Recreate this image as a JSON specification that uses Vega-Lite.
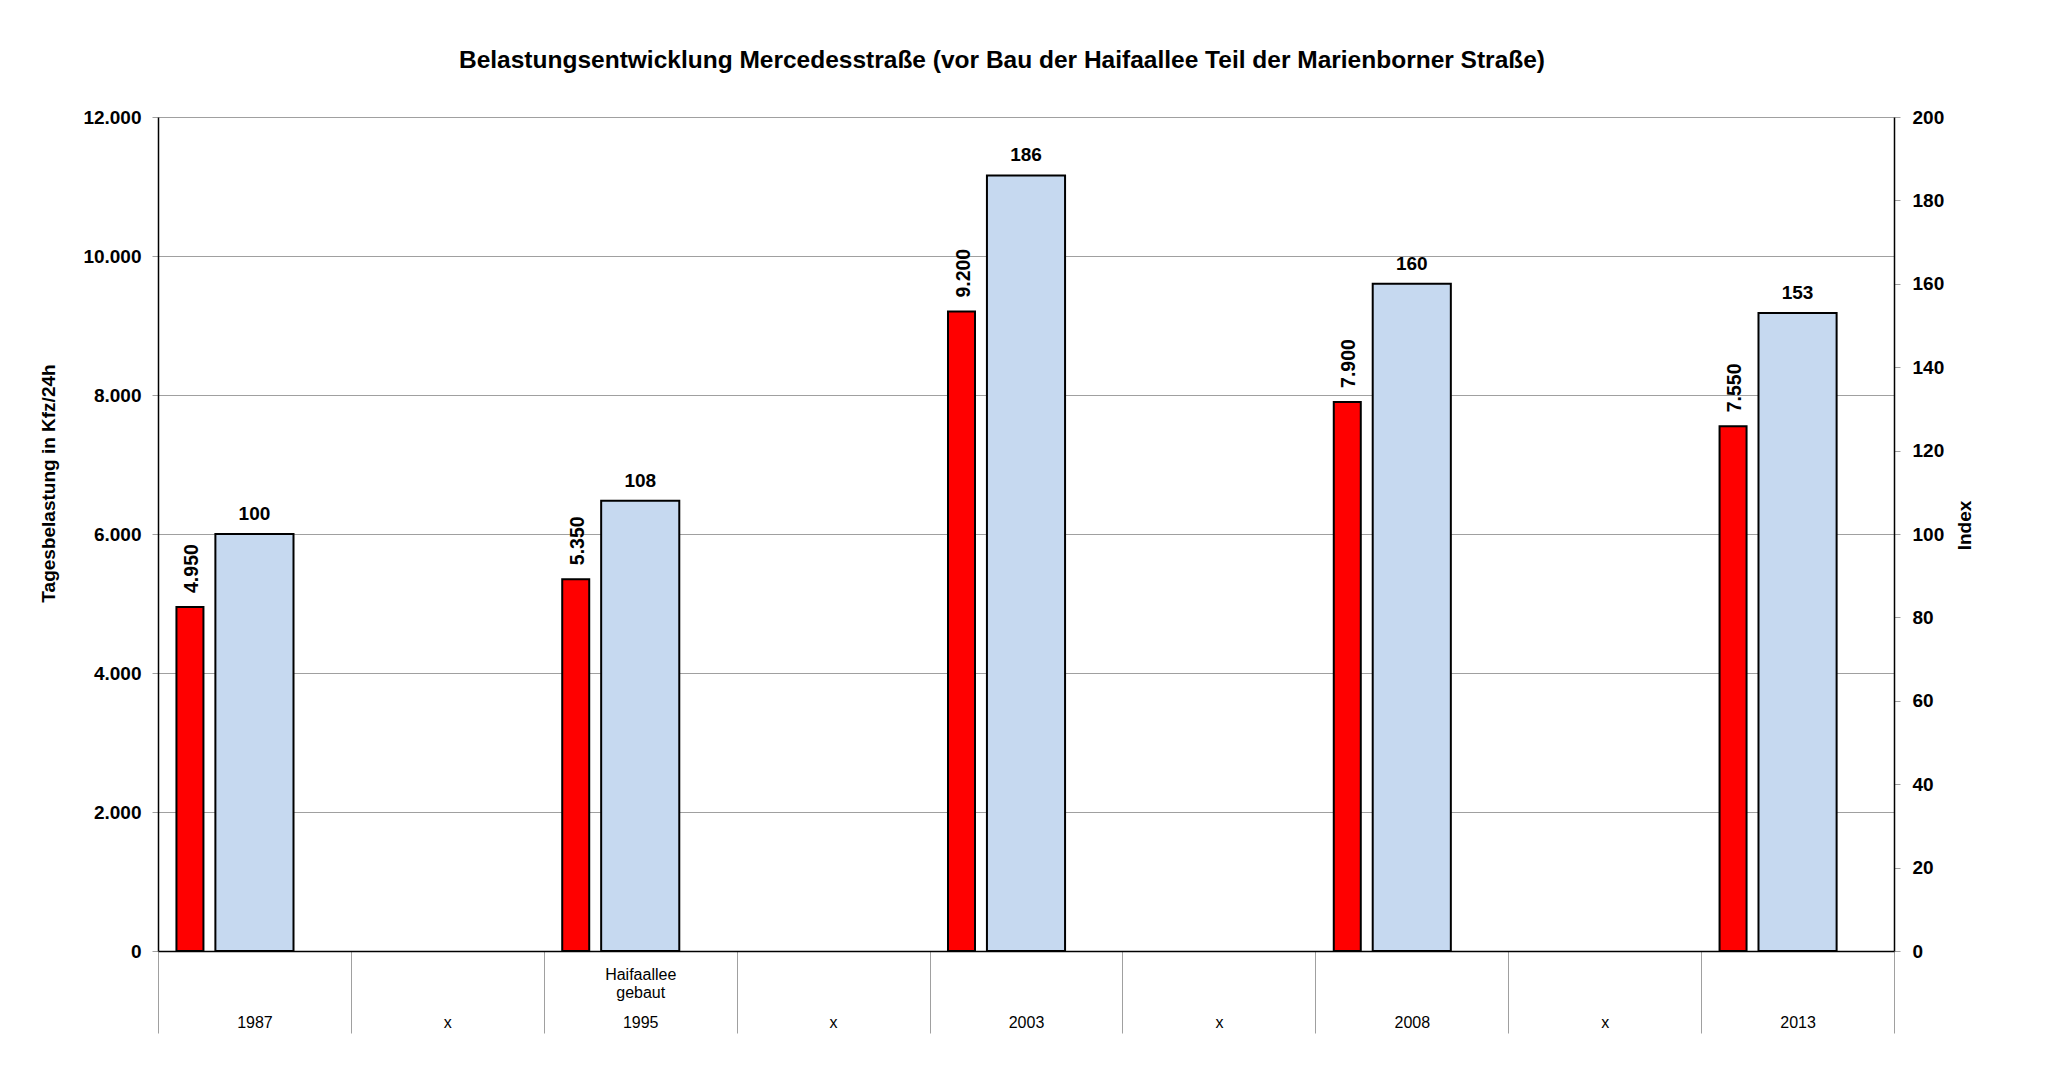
{
  "$schema": "https://vega.github.io/schema/vega-lite/v6.json",
  "width": 1736,
  "height": 834,
  "autosize": {"type": "none"},
  "padding": {"left": 158, "top": 117, "right": 168, "bottom": 141},
  "background": "white",
  "title": {
    "text": "Belastungsentwicklung Mercedesstraße (vor Bau der Haifaallee Teil der Marienborner Straße)",
    "font": "Liberation Sans",
    "fontSize": 24.5,
    "fontWeight": "bold",
    "color": "black",
    "anchor": "middle",
    "dx": -24,
    "offset": 35
  },
  "data": {
    "values": [
      {"jahr": "1987", "kfz": 4950, "index": 100},
      {"jahr": "1995", "kfz": 5350, "index": 108},
      {"jahr": "2003", "kfz": 9200, "index": 186},
      {"jahr": "2008", "kfz": 7900, "index": 160},
      {"jahr": "2013", "kfz": 7550, "index": 153}
    ]
  },
  "layer": [
    {
      "encoding": {
        "x": {
          "field": "jahr",
          "type": "nominal",
          "sort": null,
          "scale": {
            "domain": ["1987", "x1", "1995", "x2", "2003", "x3", "2008", "x4", "2013"],
            "paddingInner": 0,
            "paddingOuter": 0
          },
          "axis": {
            "orient": "bottom",
            "title": null,
            "labelAngle": 0,
            "labelFontSize": 16,
            "labelFontWeight": "normal",
            "labelPadding": -19,
            "labelExpr": "slice(datum.label, 0, 1) == 'x' ? 'x' : datum.label",
            "ticks": true,
            "tickBand": "extent",
            "tickSize": 82,
            "tickColor": "#a0a0a0",
            "tickWidth": 1,
            "domainColor": "black",
            "domainWidth": 1.5,
            "grid": false
          }
        },
        "y": {
          "field": "kfz",
          "type": "quantitative",
          "title": "Tagesbelastung in Kfz/24h",
          "scale": {"domain": [0, 12000], "nice": false},
          "axis": {
            "orient": "left",
            "values": [0, 2000, 4000, 6000, 8000, 10000, 12000],
            "format": ",d",
            "grid": true,
            "gridColor": "#a0a0a0",
            "gridWidth": 1,
            "tickColor": "#a0a0a0",
            "tickSize": 6,
            "domainColor": "black",
            "domainWidth": 1.5,
            "labelFontSize": 19,
            "labelFontWeight": "bold",
            "labelPadding": 11,
            "titleFontSize": 19,
            "titleFontWeight": "bold",
            "titlePadding": 24,
            "titleY": 366
          }
        }
      },
      "layer": [
        {
          "mark": {
            "type": "bar",
            "width": {"band": 0.14},
            "xOffset": -64.5,
            "fill": "#ff0000",
            "stroke": "black",
            "strokeWidth": 2
          }
        },
        {
          "mark": {
            "type": "text",
            "angle": 270,
            "align": "left",
            "baseline": "middle",
            "dx": 14,
            "dy": 2,
            "xOffset": -64.5,
            "font": "Liberation Sans",
            "fontSize": 19.5,
            "fontWeight": "bold",
            "color": "black"
          },
          "encoding": {
            "text": {"field": "kfz", "type": "quantitative", "format": ",d"}
          }
        }
      ]
    },
    {
      "encoding": {
        "x": {
          "field": "jahr",
          "type": "nominal",
          "sort": null,
          "axis": {
            "orient": "bottom",
            "title": null,
            "labelAngle": 0,
            "labelFontSize": 16,
            "labelFontWeight": "normal",
            "labelLineHeight": 18.5,
            "labelPadding": -67,
            "labelExpr": "datum.label == '1995' ? ['Haifaallee', 'gebaut'] : ''",
            "ticks": true,
            "tickBand": "extent",
            "tickSize": 82,
            "tickOpacity": 0,
            "domain": false,
            "grid": false
          }
        },
        "y": {
          "field": "index",
          "type": "quantitative",
          "title": "Index",
          "scale": {"domain": [0, 200], "nice": false},
          "axis": {
            "orient": "right",
            "values": [0, 20, 40, 60, 80, 100, 120, 140, 160, 180, 200],
            "grid": false,
            "tickColor": "#a0a0a0",
            "tickSize": 6,
            "domainColor": "black",
            "domainWidth": 1.5,
            "labelFontSize": 19,
            "labelFontWeight": "bold",
            "labelPadding": 12,
            "titleFontSize": 19,
            "titleFontWeight": "bold",
            "titleAngle": 270,
            "titlePadding": 31,
            "titleY": 408
          }
        }
      },
      "layer": [
        {
          "mark": {
            "type": "bar",
            "width": {"band": 0.405},
            "fill": "#c6d9f0",
            "stroke": "black",
            "strokeWidth": 2
          }
        },
        {
          "mark": {
            "type": "text",
            "align": "center",
            "baseline": "alphabetic",
            "dy": -14,
            "font": "Liberation Sans",
            "fontSize": 19,
            "fontWeight": "bold",
            "color": "black"
          },
          "encoding": {
            "text": {"field": "index", "type": "quantitative", "format": "d"}
          }
        }
      ]
    }
  ],
  "resolve": {
    "scale": {"y": "independent", "x": "shared"},
    "axis": {"y": "independent", "x": "independent"}
  },
  "config": {
    "view": {"stroke": null},
    "font": "Liberation Sans",
    "axis": {
      "labelFont": "Liberation Sans",
      "titleFont": "Liberation Sans",
      "labelColor": "black",
      "titleColor": "black"
    },
    "locale": {
      "number": {
        "decimal": ",",
        "thousands": ".",
        "grouping": [3],
        "currency": ["", " €"]
      }
    }
  }
}
